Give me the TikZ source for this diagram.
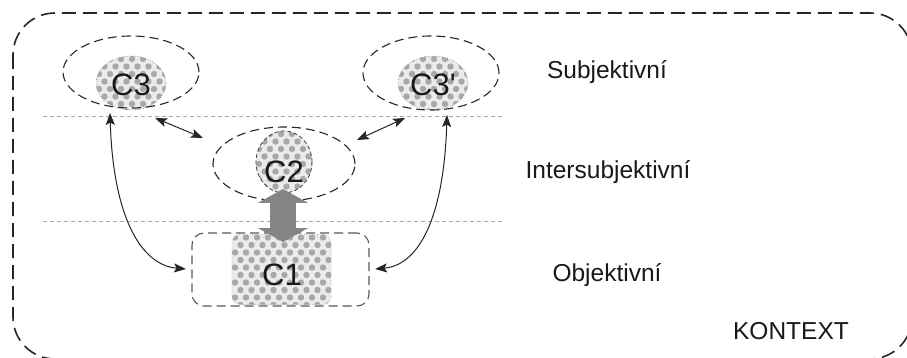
\documentclass[tikz,border=0pt]{standalone}
\usepackage{fontspec}
\setmainfont{Liberation Sans}
\newfontfamily\plainsans{Liberation Sans}
\usetikzlibrary{arrows.meta,shapes.geometric}

\tikzset{
  frame/.style={draw=black!85, line width=1.6pt, dash pattern=on 14pt off 7pt, rounded corners=42pt},
  level/.style={draw=black!35, line width=0.8pt, dash pattern=on 4pt off 3pt},
  halo/.style={ellipse, draw=black!85, line width=1.1pt, dash pattern=on 9pt off 5pt, inner sep=0pt},
  dotted dots/.style={fill=black!8, path picture={
      \foreach \j in {0,...,12} {
        \foreach \i in {0,...,12} {
          \pgfmathsetmacro\xx{\i*11 + mod(\j,2)*5.5 + 3}
          \pgfmathsetmacro\yy{-\j*7.5 - 3}
          \fill[black!34] ([shift={(\xx pt,\yy pt)}]path picture bounding box.north west) circle (3.2pt);
        }
      }}},
  core/.style={ellipse, dotted dots, inner sep=0pt},
  biglabel/.style={font=\plainsans\fontsize{31}{34}\selectfont, text=black!90, inner sep=0pt},
  levellabel/.style={font=\fontsize{24.5}{28}\selectfont, text=black!90, inner sep=0pt},
  link/.style={draw=black!85, line width=1pt, {Stealth[length=12pt,width=9pt,inset=2.5pt]}-{Stealth[length=12pt,width=9pt,inset=2.5pt]}},
  bond/.style={draw=black!48, line width=26pt,
    {Triangle[length=14pt,width=50pt]}-{Triangle[length=14pt,width=50pt]}}
}

\begin{document}
\begin{tikzpicture}[x=1pt,y=-1pt]
\useasboundingbox (0,0) rectangle (907,358);
\clip (0,0) rectangle (907,358);
\fill[white] (0,0) rectangle (907,358);

% context frame
\draw[frame] (13,13) rectangle (912,359);

% level separators
\draw[level] (43,116) -- (505,116);
\draw[level] (43,221) -- (505,221);

% subjective cores
\node[core, draw=black!60, line width=0.6pt, dotted, minimum width=70pt, minimum height=54pt] (c3in) at (131,83) {};
\node[halo, minimum width=136pt, minimum height=72pt] (c3) at (131,72) {};
\node[biglabel] (t3) at (131,85) {C3};

\node[core, draw=black!60, line width=0.6pt, dotted, minimum width=70pt, minimum height=54pt] (c3pin) at (433,83) {};
\node[halo, minimum width=136pt, minimum height=74pt] (c3p) at (431,73) {};
\node[biglabel] (t3p) at (433,85) {C3'};

% intersubjective core
\node[core, draw=black!75, line width=0.8pt, dash pattern=on 4pt off 2.5pt, minimum width=56pt, minimum height=62pt] (c2in) at (284,162) {};
\node[halo, minimum width=142pt, minimum height=74pt] (c2) at (284,164) {};
\node[biglabel] (t2) at (284,172) {C2};

% objective core
\node[rectangle, rounded corners=8pt, dotted dots, draw=black!35, line width=0.6pt, dotted, minimum width=99pt, minimum height=70pt, inner sep=0pt] (c1in) at (281.5,269.5) {};
\node[rectangle, rounded corners=12pt, draw=black!65, line width=1.1pt, dash pattern=on 9pt off 5pt, minimum width=177pt, minimum height=73pt, inner sep=0pt] (c1) at (280.5,269.5) {};
\node[biglabel] (t1) at (282,275) {C1};

% thick exchange between C1 and C2
\coordinate (b1) at (283,242);
\coordinate (b2) at (283,189);
\draw[bond] (b1) -- (b2);

% thin links
\coordinate (l3) at (110,113);
\coordinate (r3) at (447,115);
\coordinate (l1) at (186,269);
\coordinate (r1) at (375,269);
\draw[link] (l3) .. controls (113,215) and (140,265) .. (l1);
\draw[link] (r3) .. controls (444,215) and (420,265) .. (r1);

\coordinate (d3) at (155,118);
\coordinate (d2l) at (203,138);
\coordinate (d3p) at (405,118);
\coordinate (d2r) at (357,140);
\draw[link] (d3) -- (d2l);
\draw[link] (d3p) -- (d2r);

% level names
\node[levellabel] (ls) at (607,72) {Subjektivní};
\node[levellabel] (li) at (608,172) {Intersubjektivní};
\node[levellabel] (lo) at (607,275) {Objektivní};
\node[levellabel] (lk) at (791,331) {KONTEXT};
\end{tikzpicture}
\end{document}
